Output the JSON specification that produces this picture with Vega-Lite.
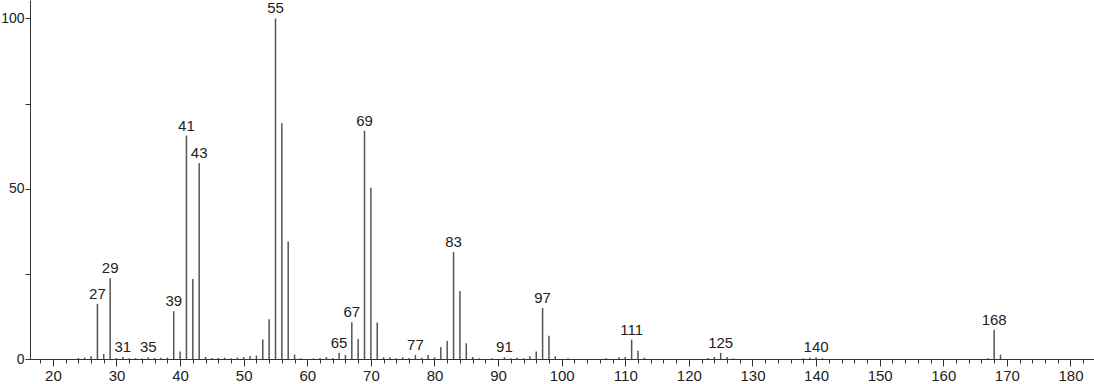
{
  "$schema": "https://vega.github.io/schema/vega-lite/v6.json",
  "width": 1064,
  "height": 359,
  "autosize": {"type": "none"},
  "padding": {"left": 30, "top": 0, "right": 0, "bottom": 25},
  "config": {
    "view": {"stroke": null},
    "font": "Liberation Sans",
    "axis": {"grid": false, "domainColor": "#333", "tickColor": "#333", "labelColor": "#222", "labelFontSize": 15, "labelFont": "Liberation Sans"}
  },
  "data": {
    "values": [
      {"mz": 24, "i": 0.3, "lab": false},
      {"mz": 25, "i": 0.4, "lab": false},
      {"mz": 26, "i": 0.9, "lab": false},
      {"mz": 27, "i": 16.2, "lab": true},
      {"mz": 28, "i": 1.5, "lab": false},
      {"mz": 29, "i": 23.7, "lab": true},
      {"mz": 30, "i": 0.3, "lab": false},
      {"mz": 31, "i": 0.6, "lab": true},
      {"mz": 32, "i": 0.2, "lab": false},
      {"mz": 33, "i": 0.3, "lab": false},
      {"mz": 34, "i": 0.2, "lab": false},
      {"mz": 35, "i": 0.5, "lab": true},
      {"mz": 36, "i": 0.3, "lab": false},
      {"mz": 37, "i": 0.4, "lab": false},
      {"mz": 38, "i": 0.4, "lab": false},
      {"mz": 39, "i": 14.0, "lab": true},
      {"mz": 40, "i": 2.2, "lab": false},
      {"mz": 41, "i": 65.6, "lab": true},
      {"mz": 42, "i": 23.5, "lab": false},
      {"mz": 43, "i": 57.5, "lab": true},
      {"mz": 44, "i": 0.6, "lab": false},
      {"mz": 45, "i": 0.3, "lab": false},
      {"mz": 46, "i": 0.3, "lab": false},
      {"mz": 47, "i": 0.4, "lab": false},
      {"mz": 48, "i": 0.2, "lab": false},
      {"mz": 49, "i": 0.4, "lab": false},
      {"mz": 50, "i": 0.6, "lab": false},
      {"mz": 51, "i": 0.9, "lab": false},
      {"mz": 52, "i": 1.0, "lab": false},
      {"mz": 53, "i": 5.7, "lab": false},
      {"mz": 54, "i": 11.7, "lab": false},
      {"mz": 55, "i": 100, "lab": true},
      {"mz": 56, "i": 69.2, "lab": false},
      {"mz": 57, "i": 34.5, "lab": false},
      {"mz": 58, "i": 1.3, "lab": false},
      {"mz": 59, "i": 0.2, "lab": false},
      {"mz": 61, "i": 0.2, "lab": false},
      {"mz": 62, "i": 0.3, "lab": false},
      {"mz": 63, "i": 0.6, "lab": false},
      {"mz": 64, "i": 0.3, "lab": false},
      {"mz": 65, "i": 1.8, "lab": true},
      {"mz": 66, "i": 1.2, "lab": false},
      {"mz": 67, "i": 10.8, "lab": true},
      {"mz": 68, "i": 5.9, "lab": false},
      {"mz": 69, "i": 67.0, "lab": true},
      {"mz": 70, "i": 50.3, "lab": false},
      {"mz": 71, "i": 10.7, "lab": false},
      {"mz": 72, "i": 0.5, "lab": false},
      {"mz": 73, "i": 0.5, "lab": false},
      {"mz": 74, "i": 0.2, "lab": false},
      {"mz": 75, "i": 0.5, "lab": false},
      {"mz": 76, "i": 0.3, "lab": false},
      {"mz": 77, "i": 1.2, "lab": true},
      {"mz": 78, "i": 0.4, "lab": false},
      {"mz": 79, "i": 1.2, "lab": false},
      {"mz": 80, "i": 0.5, "lab": false},
      {"mz": 81, "i": 3.5, "lab": false},
      {"mz": 82, "i": 5.3, "lab": false},
      {"mz": 83, "i": 31.4, "lab": true},
      {"mz": 84, "i": 20.0, "lab": false},
      {"mz": 85, "i": 4.6, "lab": false},
      {"mz": 86, "i": 0.6, "lab": false},
      {"mz": 87, "i": 0.2, "lab": false},
      {"mz": 89, "i": 0.2, "lab": false},
      {"mz": 91, "i": 0.5, "lab": true},
      {"mz": 92, "i": 0.2, "lab": false},
      {"mz": 93, "i": 0.4, "lab": false},
      {"mz": 94, "i": 0.2, "lab": false},
      {"mz": 95, "i": 0.8, "lab": false},
      {"mz": 96, "i": 2.2, "lab": false},
      {"mz": 97, "i": 15.0, "lab": true},
      {"mz": 98, "i": 6.8, "lab": false},
      {"mz": 99, "i": 0.8, "lab": false},
      {"mz": 101, "i": 0.2, "lab": false},
      {"mz": 107, "i": 0.2, "lab": false},
      {"mz": 109, "i": 0.5, "lab": false},
      {"mz": 110, "i": 0.6, "lab": false},
      {"mz": 111, "i": 5.7, "lab": true},
      {"mz": 112, "i": 2.4, "lab": false},
      {"mz": 113, "i": 0.4, "lab": false},
      {"mz": 123, "i": 0.3, "lab": false},
      {"mz": 124, "i": 0.6, "lab": false},
      {"mz": 125, "i": 1.8, "lab": true},
      {"mz": 126, "i": 0.6, "lab": false},
      {"mz": 127, "i": 0.2, "lab": false},
      {"mz": 138, "i": 0.2, "lab": false},
      {"mz": 139, "i": 0.4, "lab": false},
      {"mz": 140, "i": 0.5, "lab": true},
      {"mz": 141, "i": 0.2, "lab": false},
      {"mz": 167, "i": 0.2, "lab": false},
      {"mz": 168, "i": 8.6, "lab": true},
      {"mz": 169, "i": 1.3, "lab": false}
    ]
  },
  "resolve": {"axis": {"x": "independent", "y": "independent"}},
  "layer": [
    {
      "mark": {"type": "rule", "color": "#555", "strokeWidth": 1.5},
      "encoding": {
        "x": {
          "field": "mz", "type": "quantitative",
          "scale": {"domain": [16.4, 183.7], "nice": false, "zero": false},
          "axis": {
            "title": null,
            "orient": "bottom",
            "values": [20, 30, 40, 50, 60, 70, 80, 90, 100, 110, 120, 130, 140, 150, 160, 170, 180],
            "tickSize": 7,
            "labelPadding": 2,
            "labelFlush": false,
            "labelOverlap": false
          }
        },
        "y": {
          "field": "i", "type": "quantitative",
          "scale": {"domain": [0, 105.4], "nice": false},
          "axis": {
            "title": null,
            "orient": "left",
            "values": [0, 50, 100],
            "tickSize": 5,
            "labelPadding": 1,
            "labelFontSize": 14,
            "labelFlush": false
          }
        },
        "y2": {"datum": 0}
      }
    },
    {
      "transform": [{"filter": "datum.lab"}],
      "mark": {"type": "text", "baseline": "bottom", "dy": -2, "fontSize": 15, "color": "#222", "font": "Liberation Sans"},
      "encoding": {
        "x": {
          "field": "mz", "type": "quantitative",
          "axis": {
            "orient": "bottom",
            "title": null,
            "domain": false,
            "labels": false,
            "tickSize": 4,
            "values": [18,22,24,26,28,32,34,36,38,42,44,46,48,52,54,56,58,62,64,66,68,72,74,76,78,82,84,86,88,92,94,96,98,102,104,106,108,112,114,116,118,122,124,126,128,132,134,136,138,142,144,146,148,152,154,156,158,162,164,166,168,172,174,176,178,182]
          }
        },
        "y": {
          "field": "i", "type": "quantitative",
          "axis": {
            "orient": "left",
            "title": null,
            "domain": false,
            "labels": false,
            "tickSize": 5,
            "values": [25, 75]
          }
        },
        "text": {"field": "mz", "type": "quantitative"}
      }
    }
  ]
}
